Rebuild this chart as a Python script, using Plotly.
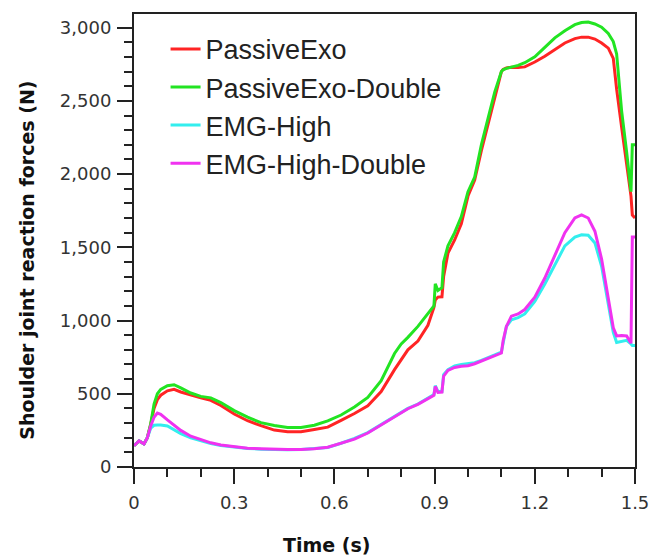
import plotly.graph_objects as go

# Time samples (s)
time_s = [0, 0.015, 0.03, 0.04, 0.05, 0.06, 0.07, 0.08, 0.1, 0.12, 0.14, 0.17, 0.2, 0.23, 0.26,
          0.3, 0.34, 0.38, 0.42, 0.46, 0.5, 0.54, 0.58, 0.62, 0.66, 0.7, 0.74, 0.78, 0.8, 0.82,
          0.85, 0.88, 0.898, 0.902, 0.91, 0.922, 0.927, 0.94, 0.96, 0.98, 1.0, 1.02, 1.04, 1.06,
          1.08, 1.1, 1.105, 1.115, 1.13, 1.15, 1.17, 1.2, 1.23, 1.26, 1.29, 1.32, 1.34, 1.36,
          1.38, 1.4, 1.42, 1.435, 1.445, 1.46, 1.475, 1.488, 1.492, 1.5]

passive_exo = [145, 178, 158, 200, 290, 400, 460, 490, 520, 530, 512, 490, 472, 455, 420,
               362, 316, 282, 252, 240, 241, 256, 272, 318, 365, 418, 515, 665, 730, 800,
               860, 968, 1090, 1140, 1160, 1162, 1300, 1460, 1550, 1660, 1850, 1960, 2160, 2340,
               2530, 2700, 2715, 2725, 2730, 2728, 2732, 2765, 2805, 2850, 2895, 2925, 2935, 2935,
               2922, 2895, 2860, 2790, 2580, 2320, 2080, 1850, 1720, 1700]

passive_exo_double = [145, 178, 158, 200, 295, 430, 500, 530, 555, 562, 540, 505, 482, 472, 440,
                      385, 340, 303, 283, 270, 270, 285, 315, 355, 410, 475, 590, 775, 840, 885,
                      960, 1045, 1100, 1250, 1205, 1225, 1400, 1510, 1600, 1710, 1880, 1980, 2200, 2380,
                      2560, 2700, 2712, 2722, 2730, 2742, 2760, 2800, 2865, 2930, 2978, 3020, 3035, 3038,
                      3025, 3003, 2960, 2905, 2820, 2430, 2150, 1880, 2200, 2200]

emg_high = [145, 178, 158, 200, 265, 285, 287, 287, 280, 255, 228, 200, 180, 160, 147,
            135, 127, 122, 118, 118, 119, 124, 133, 162, 195, 235, 290, 350, 375, 400,
            430, 470, 495, 555, 515, 515, 630, 665, 690, 700, 708, 712, 728, 745,
            765, 785, 850, 960, 1005, 1020, 1045, 1130, 1250, 1380, 1510, 1570, 1585, 1582,
            1530, 1370, 1100, 920, 850, 860, 865, 840, 830, 830]

emg_high_double = [145, 178, 158, 200, 280, 340, 368, 360, 322, 285, 250, 210, 188, 165, 150,
                   138, 128, 124, 120, 119, 119, 124, 135, 160, 190, 232, 288, 348, 372, 398,
                   428, 468, 490, 550, 510, 512, 620, 660, 680, 688, 692, 705, 722, 742,
                   760, 778, 860, 960, 1030, 1045, 1075, 1160, 1290, 1440, 1600, 1700, 1722, 1700,
                   1610, 1420, 1150, 950, 895, 898, 895, 845, 1570, 1570]

series_names = ["PassiveExo", "PassiveExo-Double", "EMG-High", "EMG-High-Double"]
series_values = [passive_exo, passive_exo_double, emg_high, emg_high_double]
series_colors = ["#ff2424", "#22e422", "#33eeee", "#f032f0"]

fig = go.Figure()
for name, vals, col in zip(series_names, series_values, series_colors):
    fig.add_trace(go.Scatter(x=time_s, y=vals, mode="lines", name=name, legendgroup=name,
                             line=dict(color=col, width=3)))

tick_font = dict(family="DejaVu Sans", size=18, color="#333333")
axis_common = dict(showline=True, linewidth=2, linecolor="#222222", mirror=True,
                   showgrid=False, zeroline=False, ticks="outside", ticklen=15,
                   tickwidth=2, tickcolor="#222222", tickfont=tick_font)

fig.update_xaxes(range=[0, 1.5], tick0=0, dtick=0.3, ticklabelstandoff=3,
                 minor=dict(dtick=0.1, ticks="outside", ticklen=8, tickwidth=2, tickcolor="#222222"),
                 **axis_common)
fig.update_yaxes(range=[0, 3093], tick0=0, dtick=500, tickformat=",d", ticklabelstandoff=2,
                 minor=dict(dtick=100, ticks="outside", ticklen=8, tickwidth=2, tickcolor="#222222"),
                 **axis_common)

fig.update_layout(
    width=661, height=560,
    margin=dict(l=134, r=16, t=14, b=93),
    plot_bgcolor="white", paper_bgcolor="white",
    legend=dict(x=0.063, y=0.976, xanchor="left", yanchor="top",
                font=dict(family="Liberation Sans", size=27, color="#222222"),
                bgcolor="rgba(0,0,0,0)", tracegroupgap=0, traceorder="grouped"),
    annotations=[
        dict(text="<b>Time (s)</b>", xref="paper", yref="paper", x=0.384, y=-0.172,
             xanchor="center", yanchor="middle", showarrow=False,
             font=dict(family="DejaVu Sans", size=19, color="#111111")),
        dict(text="<b>Shoulder joint reaction forces (N)</b>", xref="paper", yref="paper",
             x=-0.214, y=0.457, xanchor="center", yanchor="middle", textangle=-90,
             showarrow=False, font=dict(family="DejaVu Sans", size=19, color="#111111")),
    ],
)

fig.write_html("out.html")
